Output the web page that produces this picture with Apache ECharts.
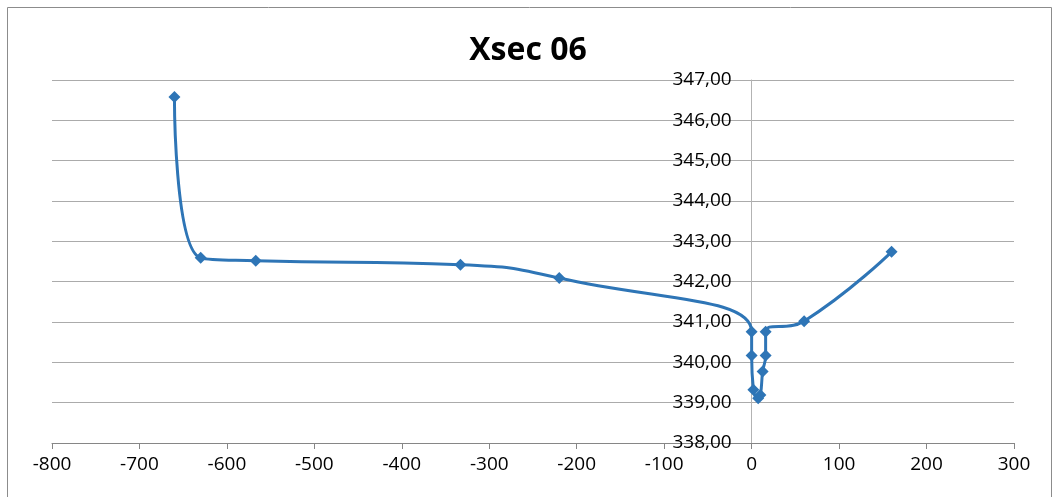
<!DOCTYPE html>
<html>
<head>
<meta charset="utf-8">
<script src="https://cdn.jsdelivr.net/npm/echarts@6/dist/echarts.min.js"></script>
<style>
  html, body { margin: 0; padding: 0; background: #fff; }
  #xsec-chart { width: 1056px; height: 497px; }
</style>
</head>
<body>
<div id="xsec-chart"></div>
<script>
var chartTitle = 'Xsec 06';
// station (m) and elevation
var stations = [-660, -630, -567, -333, -220, 0, 0, 2, 7.5, 10, 12.6, 16, 16, 60, 160];
var elevations = [346.58, 342.59, 342.52, 342.42, 342.09, 340.76, 340.17, 339.32, 339.11, 339.19, 339.77, 340.17, 340.76, 341.02, 342.74];

var xMin = -800, xMax = 300, xStep = 100;
var yMin = 338, yMax = 347, yStep = 1;

var gridLeft = 52, gridRight = 42;
var gridWidth = 1056 - gridLeft - gridRight;
// the value axis crosses at station 0, push it in from the left edge
var yAxisOffset = -(0 - xMin) / (xMax - xMin) * gridWidth;

var xsecChart = echarts.init(document.getElementById('xsec-chart'));

var points = stations.map(function (s, i) { return [s, elevations[i]]; });

var xsecOption = {
    animation: false,
    title: {
        text: chartTitle,
        left: 'center',
        top: 30,
        textStyle: {
            fontFamily: 'Open Sans',
            fontWeight: 'bold',
            fontSize: 32,
            color: '#000'
        }
    },
    graphic: [{
        type: 'rect',
        shape: { x: 7.5, y: 7.5, width: 1044, height: 520 },
        style: { fill: 'none', stroke: '#8c8c8c', lineWidth: 1 },
        silent: true
    }],
    grid: {
        left: gridLeft,
        right: gridRight,
        top: 80,
        bottom: 54,
        outerBoundsMode: 'none',
        containLabel: false
    },
    xAxis: {
        type: 'value',
        min: xMin,
        max: xMax,
        interval: xStep,
        axisLine: {
            onZero: false,
            lineStyle: { color: '#868686', width: 1 }
        },
        axisTick: {
            show: true,
            length: 6,
            lineStyle: { color: '#868686' }
        },
        axisLabel: {
            margin: 12,
            fontFamily: 'Open Sans',
            fontSize: 19,
            color: '#000'
        },
        splitLine: { show: false }
    },
    yAxis: {
        type: 'value',
        min: yMin,
        max: yMax,
        interval: yStep,
        offset: yAxisOffset,
        axisLine: {
            show: true,
            onZero: false,
            lineStyle: { color: '#b3b3b3', width: 1 }
        },
        axisTick: { show: false },
        axisLabel: {
            margin: 20,
            fontFamily: 'Open Sans',
            fontSize: 19,
            color: '#000',
            formatter: function (v) { return v.toFixed(2).replace('.', ','); }
        },
        splitLine: {
            show: true,
            lineStyle: { color: '#ababab', width: 1 }
        }
    },
    series: [{
        name: chartTitle,
        type: 'line',
        data: points,
        smooth: 0.5,
        symbol: 'diamond',
        symbolSize: 12,
        lineStyle: { color: '#2e75b6', width: 3 },
        itemStyle: { color: '#2e75b6' }
    }]
};

xsecChart.setOption(xsecOption);
</script>
</body>
</html>
